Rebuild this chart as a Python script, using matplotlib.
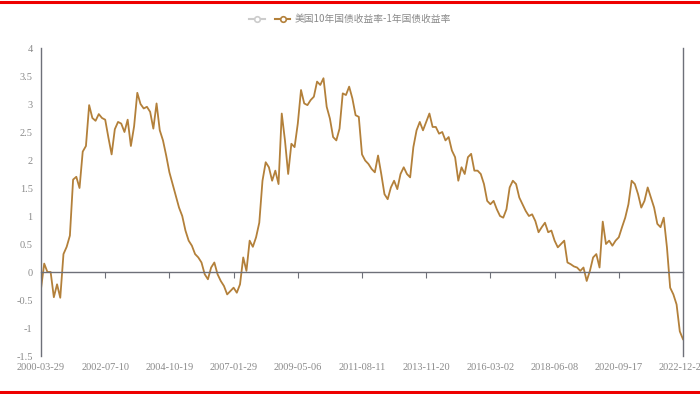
import matplotlib
matplotlib.use("Agg")
import matplotlib.pyplot as plt
from matplotlib.lines import Line2D

# spread = US 10y yield - 1y yield (evenly spaced samples)
spread = [
    -0.30, 0.15, 0.00, 0.00, -0.45, -0.22, -0.46, 0.32, 0.45, 0.65,
    1.65, 1.70, 1.50, 2.15, 2.25, 2.98, 2.75, 2.70, 2.82, 2.75,
    2.72, 2.40, 2.10, 2.55, 2.68, 2.65, 2.50, 2.72, 2.25, 2.60,
    3.20, 3.00, 2.92, 2.95, 2.86, 2.56, 3.01, 2.53, 2.35, 2.08,
    1.78, 1.57, 1.36, 1.15, 1.00, 0.74, 0.56, 0.47, 0.32, 0.26,
    0.17, -0.04, -0.13, 0.08, 0.17, -0.04, -0.16, -0.25, -0.40, -0.34,
    -0.28, -0.37, -0.22, 0.26, 0.02, 0.56, 0.45, 0.62, 0.88, 1.63,
    1.96, 1.87, 1.63, 1.81, 1.57, 2.83, 2.35, 1.75, 2.29, 2.23,
    2.65, 3.25, 3.01, 2.98, 3.07, 3.13, 3.40, 3.34, 3.46, 2.95,
    2.74, 2.41, 2.35, 2.56, 3.19, 3.16, 3.31, 3.10, 2.80, 2.77,
    2.10, 1.99, 1.93, 1.84, 1.78, 2.08, 1.75, 1.39, 1.30, 1.51,
    1.63, 1.48, 1.75, 1.87, 1.75, 1.69, 2.23, 2.53, 2.68, 2.53,
    2.68, 2.83, 2.59, 2.59, 2.47, 2.50, 2.35, 2.41, 2.17, 2.05,
    1.63, 1.87, 1.75, 2.05, 2.11, 1.81, 1.81, 1.75, 1.57, 1.27,
    1.21, 1.27, 1.12, 1.00, 0.97, 1.12, 1.51, 1.63, 1.57, 1.33,
    1.21, 1.09, 1.00, 1.03, 0.91, 0.71, 0.80, 0.88, 0.71, 0.74,
    0.56, 0.44, 0.50, 0.56, 0.17, 0.14, 0.10, 0.08, 0.02, 0.08,
    -0.16, 0.02, 0.26, 0.32, 0.08, 0.90, 0.50, 0.56, 0.47, 0.56,
    0.62, 0.80, 0.97, 1.21, 1.63, 1.57, 1.39, 1.15, 1.27, 1.51,
    1.33, 1.15, 0.86, 0.80, 0.97, 0.44, -0.28, -0.40, -0.58, -1.06,
    -1.20,
]
date_labels = ["2000-03-29", "2002-07-10", "2004-10-19", "2007-01-29",
               "2009-05-06", "2011-08-11", "2013-11-20", "2016-03-02",
               "2018-06-08", "2020-09-17", "2022-12-28"]
y_ticks = [-1.5, -1, -0.5, 0, 0.5, 1, 1.5, 2, 2.5, 3, 3.5, 4]
series_name = "美国10年国债收益率-1年国债收益率"

line_color = "#b3803a"
axis_color = "#6e7079"
text_color = "#8a8a8a"

x = list(range(len(spread)))
step = (len(spread) - 1) // (len(date_labels) - 1)
tick_pos = [i * step for i in range(len(date_labels))]

fig = plt.figure(figsize=(7, 3.94), dpi=100)
ax = fig.add_axes([41 / 700, 1 - 356 / 394, 642 / 700, 308 / 394])

ax.plot(x, spread, color=line_color, lw=1.3, solid_joinstyle="round")

ax.set_xlim(0, len(spread) - 1)
ax.set_ylim(-1.5, 4)
ax.set_yticks(y_ticks)
ax.set_yticklabels(["%g" % v for v in y_ticks], fontsize=7.5,
                   family="Liberation Serif", color=text_color)
ax.tick_params(axis="y", length=0, pad=6)

for s in ["left", "right"]:
    ax.spines[s].set_color(axis_color)
    ax.spines[s].set_linewidth(1)
ax.spines["top"].set_visible(False)
ax.spines["bottom"].set_position(("data", 0))
ax.spines["bottom"].set_color(axis_color)
ax.spines["bottom"].set_linewidth(1)
ax.set_xticks(tick_pos)
ax.tick_params(axis="x", length=4, color=axis_color, labelbottom=False)

sec = ax.secondary_xaxis("bottom")
sec.set_xticks(tick_pos)
sec.set_xticklabels(date_labels, fontsize=7.5, family="Liberation Serif",
                    color=text_color)
sec.tick_params(length=0, pad=5)
sec.spines["bottom"].set_visible(False)

handles = [
    Line2D([], [], color="#cccccc", lw=1.5, marker="o", ms=4,
           mfc="white", mec="#cccccc", mew=1.2),
    Line2D([], [], color=line_color, lw=1.5, marker="o", ms=4,
           mfc="white", mec=line_color, mew=1.2),
]
leg = fig.legend(handles, ["", series_name], ncol=2, loc="center",
                 bbox_to_anchor=(0.5, 1 - 19 / 394), frameon=False,
                 handlelength=1.6, columnspacing=0.6, handletextpad=0.4,
                 prop={"family": ["Noto Sans CJK SC", "DejaVu Sans"], "size": 7})
for t in leg.get_texts():
    t.set_color(text_color)

for yy in [1 - 2 / 394, 1 - 392 / 394]:
    fig.add_artist(Line2D([0, 1], [yy, yy], transform=fig.transFigure,
                          color="#ee0000", lw=2.2))

fig.savefig("out.png", dpi=100)
